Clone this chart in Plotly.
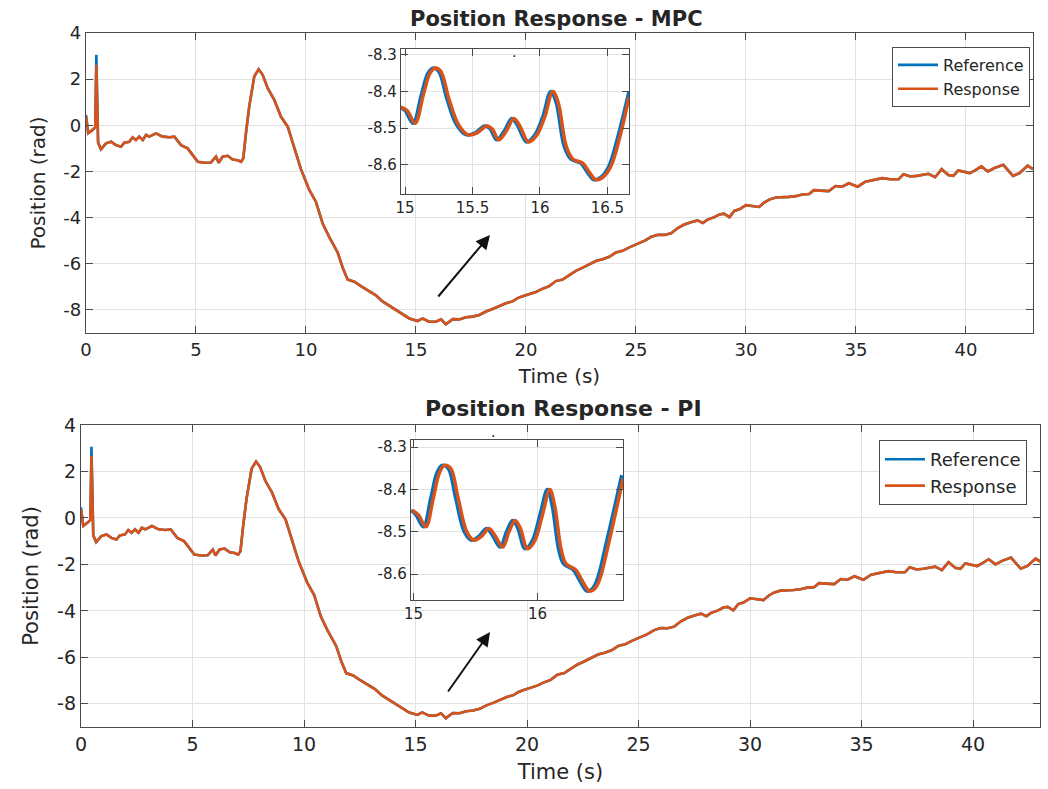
import plotly.graph_objects as go

W, H = 1048, 789

# ---------------- data ----------------
time_s = [0.00, 0.10, 0.30, 0.42, 0.47, 0.55, 0.68, 0.91, 1.14, 1.36, 1.59, 1.74, 1.97, 2.12, 2.27,
          2.42, 2.58, 2.73, 2.88, 3.18, 3.48, 3.79, 4.02, 4.32, 4.62, 4.85, 5.08, 5.38, 5.68, 5.91,
          6.03, 6.21, 6.44, 6.67, 6.89, 7.05, 7.15, 7.27, 7.42, 7.65, 7.85, 8.03, 8.26, 8.56, 8.86,
          9.17, 9.47, 9.77, 10.15, 10.45, 10.76, 11.06, 11.44, 11.67, 11.89, 12.20, 12.50, 12.88,
          13.18, 13.48, 13.79, 14.09, 14.39, 14.70, 15.08, 15.30, 15.60, 15.90, 16.14, 16.36, 16.67,
          16.97, 17.27, 17.58, 17.88, 18.18, 18.48, 18.79, 19.09, 19.39, 19.62, 19.85, 20.08, 20.45,
          20.76, 21.06, 21.36, 21.67, 21.97, 22.27, 22.58, 22.88, 23.18, 23.48, 23.79, 24.09, 24.39,
          24.70, 25.00, 25.40, 25.70, 26.00, 26.30, 26.60, 26.90, 27.20, 27.50, 27.80, 28.04, 28.27,
          28.57, 28.80, 29.00, 29.25, 29.47, 29.70, 30.00, 30.30, 30.60, 30.83, 31.06, 31.36, 31.66,
          31.96, 32.26, 32.56, 32.87, 33.09, 33.40, 33.77, 34.07, 34.37, 34.68, 35.08, 35.43, 35.80,
          36.20, 36.56, 36.94, 37.16, 37.47, 37.77, 38.07, 38.30, 38.60, 38.90, 39.20, 39.43, 39.65,
          39.88, 40.18, 40.40, 40.70, 41.00, 41.30, 41.70, 41.90, 42.14, 42.44, 42.80, 43.05]

reference_rad = [0.45, -0.34, -0.20, -0.08, 3.06, -0.75, -1.04, -0.78, -0.71, -0.86, -0.93, -0.75, -0.71,
                 -0.52, -0.64, -0.49, -0.64, -0.42, -0.49, -0.35, -0.49, -0.52, -0.49, -0.86, -1.00,
                 -1.29, -1.58, -1.62, -1.61, -1.36, -1.62, -1.36, -1.32, -1.48, -1.51, -1.58, -1.43,
                 -0.35, 0.81, 2.12, 2.43, 2.19, 1.61, 1.10, 0.38, -0.06, -0.93, -1.90, -2.80, -3.31,
                 -4.26, -4.85, -5.51, -6.17, -6.68, -6.78, -6.97, -7.19, -7.37, -7.63, -7.81, -8.00,
                 -8.19, -8.37, -8.48, -8.37, -8.51, -8.51, -8.41, -8.62, -8.40, -8.41, -8.32, -8.29,
                 -8.22, -8.07, -7.96, -7.82, -7.71, -7.63, -7.49, -7.41, -7.34, -7.22, -7.08, -6.97,
                 -6.75, -6.68, -6.49, -6.31, -6.17, -6.02, -5.88, -5.80, -5.70, -5.51, -5.44, -5.29,
                 -5.17, -5.00, -4.83, -4.74, -4.75, -4.68, -4.45, -4.30, -4.20, -4.12, -4.23, -4.08,
                 -3.98, -3.86, -3.83, -3.98, -3.71, -3.64, -3.46, -3.51, -3.54, -3.35, -3.22, -3.13,
                 -3.13, -3.10, -3.07, -3.00, -2.98, -2.81, -2.83, -2.85, -2.63, -2.66, -2.51, -2.66,
                 -2.44, -2.37, -2.29, -2.34, -2.34, -2.12, -2.22, -2.19, -2.15, -2.10, -2.25, -1.90,
                 -2.15, -2.19, -1.96, -2.00, -2.07, -1.96, -1.78, -2.00, -1.85, -1.71, -1.93, -2.19,
                 -2.07, -1.75, -1.90]

# the responses follow the reference except at the start and at the initial spike
mpc_response_changes = {0: 0.38, 4: 2.62}
pi_response_changes = {0: 0.38, 4: 2.68}
mpc_response_rad = [mpc_response_changes.get(i, v) for i, v in enumerate(reference_rad)]
pi_response_rad = [pi_response_changes.get(i, v) for i, v in enumerate(reference_rad)]

# zoomed insets (15 s .. 16.7 s)
mpc_zoom_ref_t = [14.96, 15.00, 15.06, 15.12, 15.17, 15.21, 15.25, 15.31, 15.38, 15.45, 15.52, 15.59,
                  15.63, 15.68, 15.74, 15.79, 15.83, 15.90, 15.96, 16.02, 16.08, 16.12, 16.18, 16.23,
                  16.30, 16.35, 16.40, 16.45, 16.51, 16.58, 16.66]
mpc_zoom_ref_y = [-8.443, -8.452, -8.487, -8.410, -8.350, -8.336, -8.345, -8.420, -8.490, -8.518,
                  -8.513, -8.494, -8.502, -8.532, -8.505, -8.474, -8.490, -8.538, -8.520, -8.470,
                  -8.400, -8.430, -8.550, -8.585, -8.595, -8.620, -8.641, -8.635, -8.605, -8.520,
                  -8.400]
mpc_zoom_resp_t = [14.97, 15.015, 15.075, 15.135, 15.185, 15.225, 15.265, 15.325, 15.395, 15.465,
                   15.535, 15.605, 15.645, 15.695, 15.755, 15.805, 15.845, 15.915, 15.975, 16.035,
                   16.095, 16.135, 16.195, 16.245, 16.315, 16.365, 16.415, 16.465, 16.525, 16.595,
                   16.66]
mpc_zoom_resp_y = [-8.443, -8.452, -8.487, -8.410, -8.350, -8.336, -8.345, -8.420, -8.490, -8.518,
                   -8.513, -8.494, -8.502, -8.532, -8.505, -8.474, -8.490, -8.538, -8.520, -8.470,
                   -8.400, -8.430, -8.550, -8.585, -8.595, -8.620, -8.641, -8.635, -8.605, -8.520,
                   -8.415]

pi_zoom_ref_t = [14.98, 15.02, 15.08, 15.14, 15.19, 15.23, 15.28, 15.34, 15.41, 15.47, 15.53, 15.59,
                 15.64, 15.70, 15.75, 15.80, 15.84, 15.90, 15.96, 16.02, 16.08, 16.12, 16.17, 16.21,
                 16.29, 16.34, 16.40, 16.44, 16.48, 16.56, 16.68]
pi_zoom_ref_y = [-8.449, -8.460, -8.488, -8.420, -8.360, -8.343, -8.350, -8.420, -8.500, -8.520,
                 -8.510, -8.492, -8.510, -8.536, -8.500, -8.473, -8.490, -8.540, -8.520, -8.460,
                 -8.400, -8.440, -8.540, -8.575, -8.590, -8.615, -8.640, -8.635, -8.614, -8.520,
                 -8.366]
pi_zoom_resp_t = [14.99, 15.04, 15.10, 15.16, 15.21, 15.25, 15.30, 15.36, 15.43, 15.49, 15.55, 15.61,
                  15.66, 15.72, 15.77, 15.82, 15.86, 15.92, 15.98, 16.04, 16.10, 16.14, 16.19, 16.23,
                  16.31, 16.36, 16.42, 16.46, 16.50, 16.58, 16.69]
pi_zoom_resp_y = [-8.449, -8.460, -8.488, -8.420, -8.360, -8.343, -8.350, -8.420, -8.500, -8.520,
                  -8.510, -8.492, -8.510, -8.536, -8.500, -8.473, -8.490, -8.540, -8.520, -8.460,
                  -8.400, -8.440, -8.540, -8.575, -8.590, -8.615, -8.640, -8.635, -8.614, -8.520,
                  -8.375]

# tick labels (hyphen minus as in the original)
main_x_ticks = [0, 5, 10, 15, 20, 25, 30, 35, 40]
main_y_ticks = [-8, -6, -4, -2, 0, 2, 4]
main_y_labels = ["-8", "-6", "-4", "-2", "0", "2", "4"]
mpc_zoom_x_ticks = [15, 15.5, 16, 16.5]
mpc_zoom_x_labels = ["15", "15.5", "16", "16.5"]
pi_zoom_x_ticks = [15, 16]
pi_zoom_x_labels = ["15", "16"]
zoom_y_ticks = [-8.6, -8.5, -8.4, -8.3]
zoom_y_labels = ["-8.6", "-8.5", "-8.4", "-8.3"]

titles = ["Position Response - MPC", "Position Response - PI"]
x_label = "Time (s)"
y_label = "Position (rad)"
series_names = ["Reference", "Response"]

# ---------------- styling ----------------
BLUE = "#0072BD"
ORANGE = "#D95319"
FRAME = "#4a4a4a"
GRID = "#e2e2e2"
TXT = "#262626"
FONT = "DejaVu Sans, Arial, sans-serif"


def px_x(p):
    return p / W


def px_y(p):
    return 1 - p / H


fig = go.Figure()

# top panel
fig.add_trace(go.Scatter(x=time_s, y=reference_rad, mode="lines", name=series_names[0],
                         line=dict(color=BLUE, width=2.6), xaxis="x", yaxis="y", legend="legend"))
fig.add_trace(go.Scatter(x=time_s, y=mpc_response_rad, mode="lines", name=series_names[1],
                         line=dict(color=ORANGE, width=2.6), xaxis="x", yaxis="y", legend="legend"))
fig.add_trace(go.Scatter(x=mpc_zoom_ref_t, y=mpc_zoom_ref_y, mode="lines", showlegend=False,
                         line=dict(color=BLUE, width=3.5, shape="spline"), xaxis="x2", yaxis="y2"))
fig.add_trace(go.Scatter(x=mpc_zoom_resp_t, y=mpc_zoom_resp_y, mode="lines", showlegend=False,
                         line=dict(color=ORANGE, width=3.5, shape="spline"), xaxis="x2", yaxis="y2"))
# bottom panel
fig.add_trace(go.Scatter(x=time_s, y=reference_rad, mode="lines", name=series_names[0],
                         line=dict(color=BLUE, width=2.6), xaxis="x3", yaxis="y3", legend="legend2"))
fig.add_trace(go.Scatter(x=time_s, y=pi_response_rad, mode="lines", name=series_names[1],
                         line=dict(color=ORANGE, width=2.6), xaxis="x3", yaxis="y3", legend="legend2"))
fig.add_trace(go.Scatter(x=pi_zoom_ref_t, y=pi_zoom_ref_y, mode="lines", showlegend=False,
                         line=dict(color=BLUE, width=3.5, shape="spline"), xaxis="x4", yaxis="y4"))
fig.add_trace(go.Scatter(x=pi_zoom_resp_t, y=pi_zoom_resp_y, mode="lines", showlegend=False,
                         line=dict(color=ORANGE, width=3.5, shape="spline"), xaxis="x4", yaxis="y4"))


def ax(domain, rng, tickvals, ticktext, anchor, size, title=None, standoff=None):
    d = dict(domain=domain, range=rng, tickmode="array", tickvals=tickvals, ticktext=ticktext,
             anchor=anchor, showline=True, mirror="ticks",
             linecolor=FRAME, linewidth=1.3, ticks="inside", ticklen=7, tickcolor=FRAME, tickwidth=1.3,
             showgrid=True, gridcolor=GRID, gridwidth=1, zeroline=False, automargin=False,
             tickfont=dict(family=FONT, size=size, color=TXT), fixedrange=True)
    if title:
        d["title"] = dict(text=title, font=dict(family=FONT, size=size + 2, color=TXT), standoff=standoff)
    return d


main_x_labels = [str(v) for v in main_x_ticks]

fig.update_layout(
    template="none",
    width=W, height=H,
    margin=dict(l=0, r=0, t=0, b=0),
    paper_bgcolor="white", plot_bgcolor="white",
    font=dict(family=FONT, color=TXT),
    xaxis=ax([px_x(86), px_x(1033)], [0, 43.05], main_x_ticks, main_x_labels, "y", 18, x_label, 10),
    yaxis=ax([px_y(333), px_y(33)], [-9, 4], main_y_ticks, main_y_labels, "x", 18, y_label, 12),
    xaxis2=ax([px_x(401), px_x(629)], [14.97, 16.66], mpc_zoom_x_ticks, mpc_zoom_x_labels, "y2", 15),
    yaxis2=ax([px_y(194), px_y(49)], [-8.68, -8.284], zoom_y_ticks, zoom_y_labels, "x2", 15),
    xaxis3=ax([px_x(81), px_x(1040)], [0, 43.0], main_x_ticks, main_x_labels, "y3", 19, x_label, 10),
    yaxis3=ax([px_y(727), px_y(425)], [-9, 4], main_y_ticks, main_y_labels, "x3", 19, y_label, 12),
    xaxis4=ax([px_x(411), px_x(623)], [14.98, 16.69], pi_zoom_x_ticks, pi_zoom_x_labels, "y4", 15),
    yaxis4=ax([px_y(600), px_y(440)], [-8.661, -8.283], zoom_y_ticks, zoom_y_labels, "x4", 15),
    legend=dict(x=px_x(1030), y=px_y(47), xanchor="right", yanchor="top", bgcolor="white",
                bordercolor=FRAME, borderwidth=1, font=dict(family=FONT, size=16, color=TXT),
                tracegroupgap=0, itemwidth=40),
    legend2=dict(x=px_x(1027), y=px_y(440), xanchor="right", yanchor="top", bgcolor="white",
                 bordercolor=FRAME, borderwidth=1, font=dict(family=FONT, size=18, color=TXT),
                 tracegroupgap=0, itemwidth=40),
    showlegend=True,
)

annotations = [
    dict(text="<b>%s</b>" % titles[0], x=px_x(556), y=px_y(19), xref="paper", yref="paper",
         showarrow=False, xanchor="center", yanchor="middle",
         font=dict(family=FONT, size=21, color=TXT)),
    dict(text="<b>%s</b>" % titles[1], x=px_x(563), y=px_y(408), xref="paper", yref="paper",
         showarrow=False, xanchor="center", yanchor="middle",
         font=dict(family=FONT, size=22, color=TXT)),
    # arrows pointing at the zoomed insets
    dict(text="", x=px_x(490), y=px_y(235), xref="paper", yref="paper", showarrow=True,
         ax=-53, ay=63, arrowhead=2, arrowsize=1.4, arrowwidth=2, arrowcolor="#111"),
    dict(text="", x=px_x(490), y=px_y(632), xref="paper", yref="paper", showarrow=True,
         ax=-43, ay=61, arrowhead=2, arrowsize=1.4, arrowwidth=2, arrowcolor="#111"),
    dict(text=".", x=px_x(514), y=px_y(42), xref="paper", yref="paper", showarrow=False,
         font=dict(family=FONT, size=14, color="#111")),
    dict(text=".", x=px_x(493), y=px_y(432), xref="paper", yref="paper", showarrow=False,
         font=dict(family=FONT, size=14, color="#111")),
]
fig.update_layout(annotations=annotations)

fig.write_html("out.html")
